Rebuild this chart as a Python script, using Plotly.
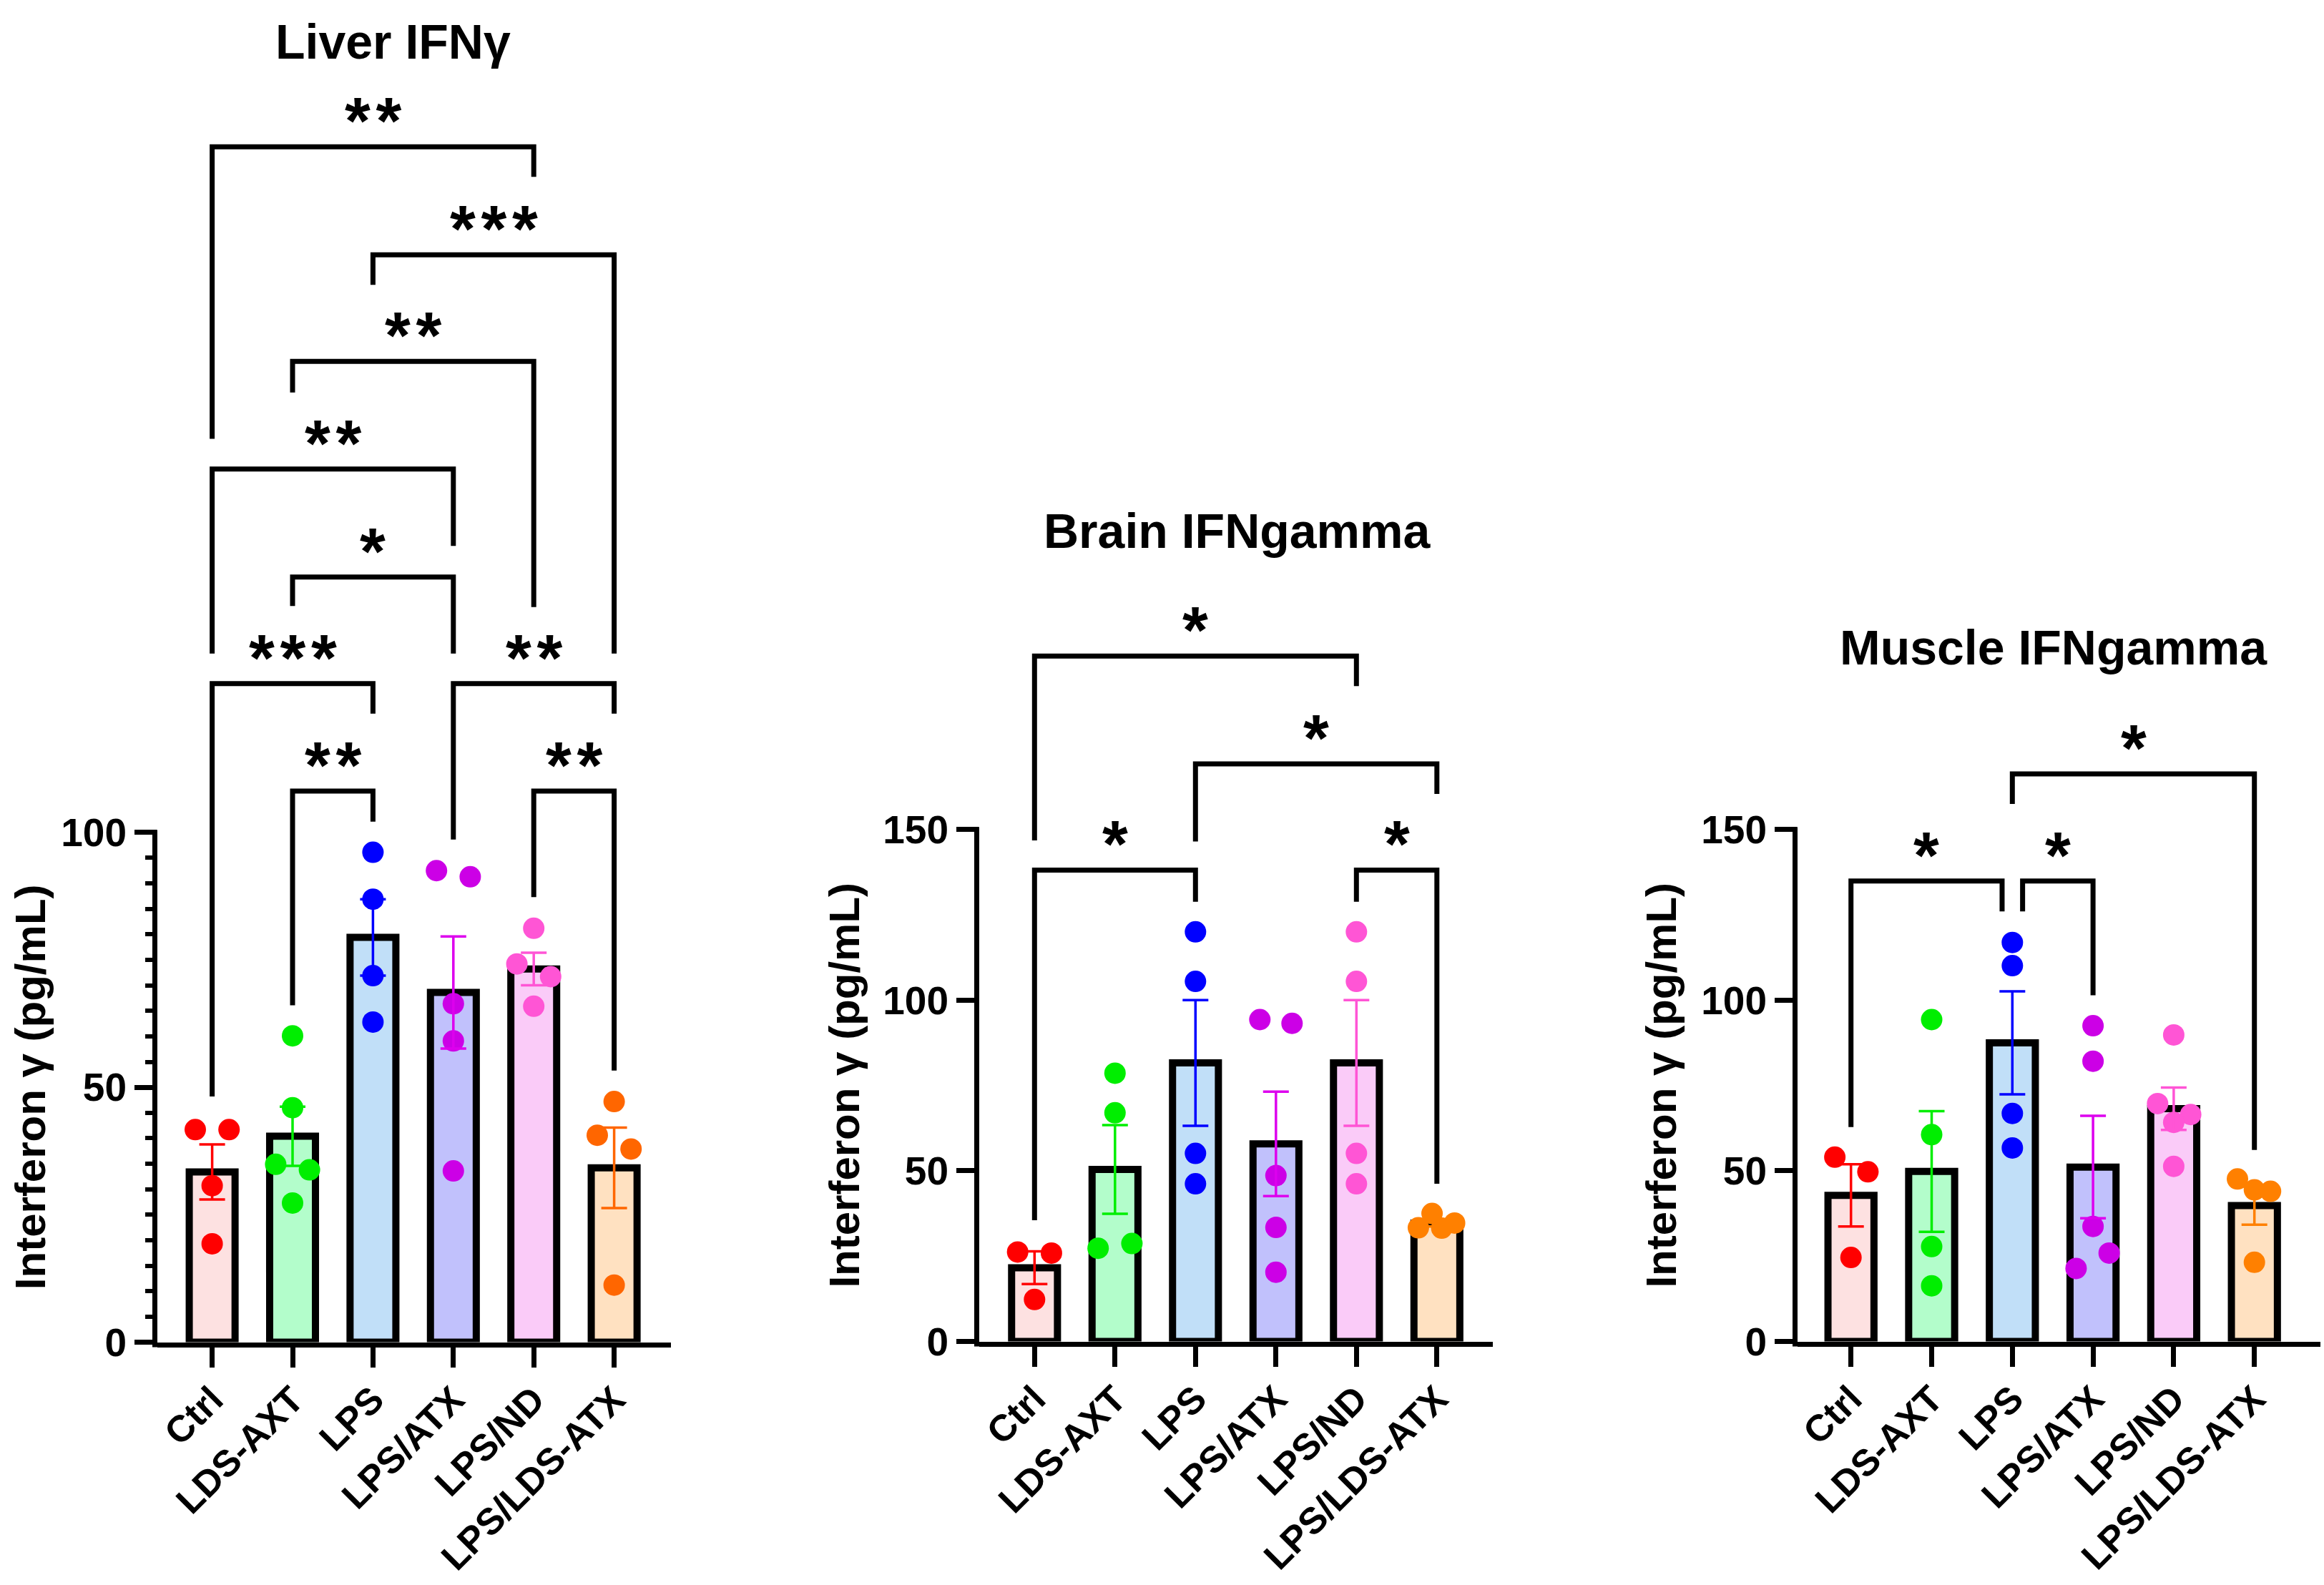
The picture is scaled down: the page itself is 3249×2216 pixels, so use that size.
import plotly.graph_objects as go

W, H = 3249, 2216
FONT = "Liberation Sans, Arial, Helvetica, sans-serif"

# ---------------- data ----------------
categories = ["Ctrl", "LDS-AXT", "LPS", "LPS/ATX", "LPS/ND", "LPS/LDS-ATX"]

bar_fill = ["#FDE1E1", "#B3FDCB", "#C1DFF8", "#C1C1FC", "#FACBF8", "#FFE1C1"]
dot_colors_liver = ["#FF0000", "#00EE00", "#0000FF", "#CC00E6", "#FF55D5", "#FF6600"]
dot_colors_other = ["#FF0000", "#00EE00", "#0000FF", "#CC00E6", "#FF55D5", "#FF8000"]
err_colors_liver = ["#FF0000", "#00EE00", "#0000FF", "#DD00EE", "#FF55D5", "#FF6600"]
err_colors_other = ["#FF0000", "#00EE00", "#0000FF", "#DD00EE", "#FF55D5", "#FF8000"]

# Liver IFNγ
liver_points = [
    [41.7, 41.7, 30.7, 19.3],
    [60.1, 46.0, 34.9, 33.8, 27.3],
    [96.1, 86.9, 71.9, 62.8],
    [92.5, 91.3, 66.4, 59.1, 33.6],
    [81.2, 74.2, 71.7, 65.9],
    [47.2, 40.6, 37.9, 11.2],
]
liver_mean = [33.4, 40.4, 79.4, 68.6, 73.2, 34.2]
liver_sem = [5.4, 5.8, 7.5, 11.0, 3.2, 7.9]
# (group i, group j, bracket level, left leg end, right leg end, label)
liver_brackets = [
    (0, 4, 234.5, 177.2, 228.6, "**"),
    (2, 5, 213.3, 207.4, 135.1, "***"),
    (1, 4, 192.4, 186.3, 144.2, "**"),
    (0, 3, 171.3, 135.1, 156.2, "**"),
    (1, 3, 150.1, 144.4, 135.1, "*"),
    (0, 2, 129.2, 48.2, 123.3, "***"),
    (3, 5, 129.2, 98.6, 123.3, "**"),
    (1, 2, 108.1, 66.1, 102.1, "**"),
    (4, 5, 108.1, 87.3, 53.3, "**"),
]

# Brain IFNgamma
brain_points = [
    [26.2, 25.9, 12.3],
    [78.6, 67.0, 27.3, 28.7],
    [120.0, 105.5, 55.1, 46.2],
    [94.3, 93.2, 48.6, 33.4, 20.3],
    [120.0, 105.5, 55.1, 46.2],
    [33.3, 37.5, 33.2, 34.7],
]
brain_mean = [21.6, 50.4, 81.6, 57.9, 81.6, 34.7]
brain_sem = [4.8, 13.0, 18.4, 15.3, 18.4, 1.0]
brain_brackets = [
    (0, 4, 200.8, 146.8, 192.0, "*"),
    (2, 5, 169.2, 146.5, 160.4, "*"),
    (0, 2, 138.1, 35.5, 128.8, "*"),
    (4, 5, 138.1, 128.8, 46.2, "*"),
]

# Muscle IFNgamma
muscle_points = [
    [54.0, 49.7, 24.6],
    [94.3, 60.6, 27.8, 16.3],
    [116.9, 110.1, 66.8, 56.7],
    [92.5, 82.1, 33.7, 25.9, 21.4],
    [89.8, 69.7, 66.5, 64.2, 51.3],
    [47.6, 44.4, 44.0, 23.2],
]
muscle_mean = [42.8, 49.8, 87.5, 51.1, 68.2, 39.8]
muscle_sem = [9.1, 17.7, 15.1, 15.0, 6.2, 5.6]
muscle_brackets = [
    (0, 2, 134.9, 62.8, 126.0, "*"),
    (2, 3, 134.9, 126.0, 101.4, "*"),
    (2, 5, 166.3, 157.5, 56.1, "*"),
]

# ---------------- point scatter offsets (layout only) ----------------
liver_jitter = [
    [-0.21, 0.21, 0, 0],
    [0, 0, -0.21, 0.21, 0],
    [0, 0, 0, 0],
    [-0.21, 0.21, 0, 0, 0],
    [0, -0.21, 0.21, 0],
    [0, -0.21, 0.21, 0],
]
brain_jitter = [
    [-0.21, 0.21, 0],
    [0, 0, -0.21, 0.21],
    [0, 0, 0, 0],
    [-0.2, 0.2, 0, 0, 0],
    [0, 0, 0, 0],
    [-0.23, -0.06, 0.06, 0.22],
]
muscle_jitter = [
    [-0.2, 0.21, 0],
    [0, 0, 0, 0],
    [0, 0, 0, 0],
    [0, 0, 0, 0.2, -0.21],
    [0, -0.2, 0.21, 0, 0],
    [-0.21, 0, 0.2, 0],
]
# leg offsets for brackets that share a group at the same level
liver_leg_off = [(0, 0)] * len(liver_brackets)
brain_leg_off = [(0, 0)] * len(brain_brackets)
muscle_leg_off = [(0, -0.127), (0.127, 0), (0, 0)]

# ---------------- geometry (pixels) ----------------
panels = [
    dict(title="Liver IFNγ", pts=liver_points, mean=liver_mean, sem=liver_sem,
         br=liver_brackets, off=liver_leg_off, jit=liver_jitter,
         dots=dot_colors_liver, errc=err_colors_liver,
         axis_px=220, cat0=296.6, sp=112.4, right_px=938, zero_px=1876.5, ppu=7.127,
         ytop=100, major=[0, 50, 100], minor=[v for v in range(5, 100, 5) if v % 50],
         title_xy=(549, 58), ytitle_x=42),
    dict(title="Brain IFNgamma", pts=brain_points, mean=brain_mean, sem=brain_sem,
         br=brain_brackets, off=brain_leg_off, jit=brain_jitter,
         dots=dot_colors_other, errc=err_colors_other,
         axis_px=1369, cat0=1446.3, sp=112.5, right_px=2087, zero_px=1875.5, ppu=4.772,
         ytop=150, major=[0, 50, 100, 150], minor=[],
         title_xy=(1730, 742), ytitle_x=1181),
    dict(title="Muscle IFNgamma", pts=muscle_points, mean=muscle_mean, sem=muscle_sem,
         br=muscle_brackets, off=muscle_leg_off, jit=muscle_jitter,
         dots=dot_colors_other, errc=err_colors_other,
         axis_px=2513, cat0=2587.7, sp=112.8, right_px=3244, zero_px=1875.5, ppu=4.772,
         ytop=150, major=[0, 50, 100, 150], minor=[],
         title_xy=(2871, 905), ytitle_x=2323),
]

fig = go.Figure()
shapes = []
annotations = []
layout_axes = {}

TOP_PX = 30
for k, p in enumerate(panels):
    sfx = "" if k == 0 else str(k + 1)
    xa, ya = "x" + sfx, "y" + sfx
    n = len(categories)

    # bars
    fig.add_trace(go.Bar(
        x=list(range(n)), y=p["mean"], width=0.57, xaxis=xa, yaxis=ya,
        marker=dict(color=bar_fill, line=dict(color="black", width=10)),
        showlegend=False, hoverinfo="skip"))
    # points
    for g in range(n):
        fig.add_trace(go.Scatter(
            x=[g + j for j in p["jit"][g]], y=p["pts"][g], mode="markers",
            xaxis=xa, yaxis=ya, cliponaxis=False,
            marker=dict(size=30, color=p["dots"][g], line=dict(width=0)),
            showlegend=False, hoverinfo="skip"))
    # error bars (mean ± SEM)
    for g in range(n):
        fig.add_trace(go.Scatter(
            x=[g], y=[p["mean"][g]], mode="markers", xaxis=xa, yaxis=ya,
            marker=dict(size=1, color="rgba(0,0,0,0)"),
            error_y=dict(type="data", array=[p["sem"][g]], color=p["errc"][g],
                         thickness=3.5, width=18, visible=True),
            showlegend=False, hoverinfo="skip"))

    # brackets
    for (i, j, lvl, le, re, lab), (oi, oj) in zip(p["br"], p["off"]):
        xi, xj = i + oi, j + oj
        shapes.append(dict(
            type="path", xref=xa, yref=ya,
            path=f"M {xi},{le} L {xi},{lvl} L {xj},{lvl} L {xj},{re}",
            line=dict(color="black", width=7), fillcolor="rgba(0,0,0,0)"))
        annotations.append(dict(
            x=(xi + xj) / 2, y=lvl, xref=xa, yref=ya, text="\u200a".join(lab),
            showarrow=False, yanchor="middle", xanchor="center", yshift=36,
            font=dict(family=FONT, size=92, color="black", weight="bold")))

    # axes
    xr = [(p["axis_px"] - p["cat0"]) / p["sp"], (p["right_px"] - p["cat0"]) / p["sp"]]
    ymax = (p["zero_px"] - TOP_PX) / p["ppu"]
    ydom = [(H - p["zero_px"]) / H, (H - TOP_PX) / H]
    layout_axes["xaxis" + sfx] = dict(
        domain=[p["axis_px"] / W, p["right_px"] / W], range=xr, anchor=ya,
        tickmode="array", tickvals=list(range(n)), ticktext=categories,
        tickangle=-45, ticks="outside", ticklen=28, tickwidth=7, tickcolor="black",
        showline=True, linewidth=7, linecolor="black", showgrid=False, zeroline=False,
        tickfont=dict(family=FONT, size=52, color="black", weight="bold"),
        ticklabelstandoff=-6, automargin=False, fixedrange=True)
    ycfg = dict(
        domain=ydom, range=[0, ymax], anchor=xa,
        tickmode="array", tickvals=p["major"], ticks="outside", ticklen=31,
        tickwidth=7, tickcolor="black", showline=False, showgrid=False, zeroline=False,
        tickfont=dict(family=FONT, size=55, color="black", weight="bold"),
        automargin=False, fixedrange=True)
    if p["minor"]:
        ycfg["minor"] = dict(tickmode="array", tickvals=p["minor"], ticks="outside",
                             ticklen=16, tickwidth=6, tickcolor="black", showgrid=False)
    layout_axes["yaxis" + sfx] = ycfg

    # y axis line from 0 to top tick
    y_axis_x = (p["axis_px"] - 3.5) / W
    y0p = (H - (p["zero_px"] + 7)) / H
    y1p = (H - (p["zero_px"] - p["ytop"] * p["ppu"] - 3.5)) / H
    shapes.append(dict(type="line", xref="paper", yref="paper",
                       x0=y_axis_x, x1=y_axis_x, y0=y0p, y1=y1p,
                       line=dict(color="black", width=7)))

    # titles
    tx, ty = p["title_xy"]
    annotations.append(dict(
        x=tx / W, y=1 - ty / H, xref="paper", yref="paper", text=p["title"],
        showarrow=False, xanchor="center", yanchor="middle",
        font=dict(family=FONT, size=68, color="black", weight="bold")))
    yc = p["zero_px"] - p["ytop"] / 2 * p["ppu"]
    annotations.append(dict(
        x=p["ytitle_x"] / W, y=1 - yc / H, xref="paper", yref="paper",
        text="Interferon γ (pg/mL)", textangle=-90, showarrow=False,
        xanchor="center", yanchor="middle",
        font=dict(family=FONT, size=60, color="black", weight="bold")))

fig.update_layout(
    width=W, height=H, margin=dict(l=0, r=0, t=0, b=0, autoexpand=False),
    paper_bgcolor="white", plot_bgcolor="rgba(0,0,0,0)",
    barmode="overlay", showlegend=False,
    shapes=shapes, annotations=annotations, **layout_axes)

fig.write_html("out.html", post_script="document.body.style.margin='0px';",
               config={"displayModeBar": False})
